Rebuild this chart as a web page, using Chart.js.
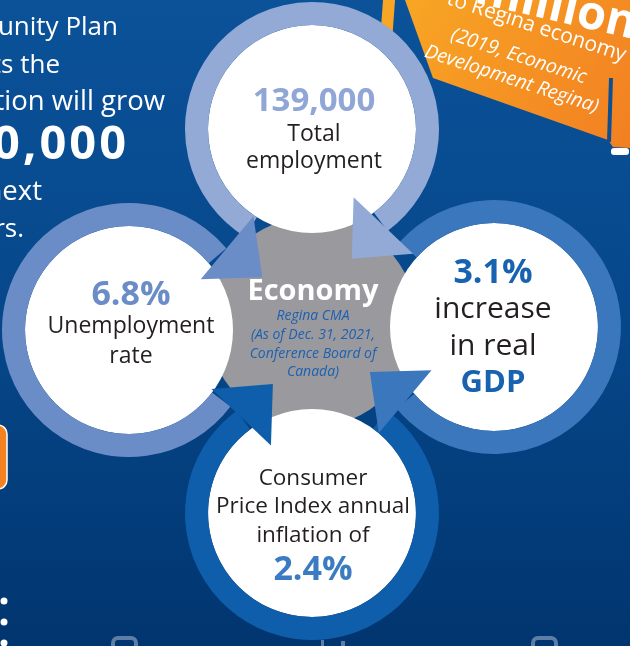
<!DOCTYPE html>
<html>
<head>
<meta charset="utf-8">
<script src="https://cdn.jsdelivr.net/npm/chart.js@4.4.1/dist/chart.umd.min.js"></script>
<style>
  html, body { margin: 0; padding: 0; background: #0a4f94; overflow: hidden; }
  canvas { display: block; }
</style>
</head>
<body>
<canvas id="myChart" width="630" height="646"></canvas>
<script>
// four indicators, clockwise from the top circle
const metrics = ['Total employment', 'Real GDP growth', 'CPI inflation', 'Unemployment rate'];
const figures = ['139,000', '3.1%', '2.4%', '6.8%'];
const captions = [
    ['Total', 'employment'],
    ['increase', 'in real', 'GDP'],
    ['Consumer', 'Price Index annual', 'inflation of'],
    ['Unemployment', 'rate']
];
const figureFirst = [true, true, false, true];
const emphasised = ['GDP'];

const hubTitle = 'Economy';
const hubNotes = ['Regina CMA', '(As of Dec. 31, 2021,', 'Conference Board of', 'Canada)'];

const sideText = ['Community Plan', 'projects the', 'population will grow', '0,000', 'next', 'years.'];
const signText = ['million', 'to Regina economy', '(2019, Economic', 'Development Regina)'];

// layout (pixels on the hidden scales)
const circleX = [312, 494, 312, 129];
const circleY = [129, 327, 513, 330];
const hub = { x: 312, y: 322 };
const innerR = 104;
const ringMid = 115.5;
const ringW = 23;
const tailAngle = [122, 222, 306, 37];
const headAngle = [53.5, 140, 233.5, -40];
const headRadius = [120, 116, 119, 128];
const lineBase = [[-18, 12, 39], [-44, -9, 28, 65], [-28, 0, 29, 67], [-25, 3, 33]];
const textShift = [2, -1, 1, 2];
const captionSize = [23, 30, 22.5, 23];

const ringColors = ['#93a9d6', '#3a77bc', '#0f5eab', '#6b8dc7'];
const figureColors = ['#8fa6d6', '#1862af', '#3b7bc1', '#6b8dc7'];

const FONT = '"Open Sans", "Noto Sans", sans-serif';
const rad = d => d * Math.PI / 180;

const backdrop = {
    id: 'backdrop',
    beforeDraw(chart) {
        const ctx = chart.ctx;
        const W = chart.width, H = chart.height;
        ctx.save();
        const bg = ctx.createLinearGradient(0, 0, 0, H);
        bg.addColorStop(0, '#0b5299');
        bg.addColorStop(0.5, '#06478a');
        bg.addColorStop(1, '#01356f');
        ctx.fillStyle = bg;
        ctx.fillRect(0, 0, W, H);

        // text block on the left, cut by the frame
        ctx.fillStyle = '#ffffff';
        ctx.textAlign = 'right';
        ctx.textBaseline = 'alphabetic';
        const rightEnds = [118, 60, 165, 129, 42, 24];
        const bases = [35, 73, 110, 159, 200, 237];
        const sizes = [26, 26, 27.5, 47, 27.5, 26];
        sideText.forEach((t, i) => {
            ctx.font = (i === 3 ? 'bold ' : '') + sizes[i] + 'px ' + FONT;
            ctx.letterSpacing = i === 3 ? '3px' : '0px';
            ctx.fillText(t, rightEnds[i], bases[i]);
        });
        ctx.letterSpacing = '0px';

        // orange sign top right
        const og = ctx.createLinearGradient(400, 0, 630, 150);
        og.addColorStop(0, '#f8a624');
        og.addColorStop(1, '#f27f22');
        ctx.fillStyle = og;
        ctx.beginPath();
        ctx.moveTo(383, 0); ctx.lineTo(395, 0); ctx.lineTo(392, 42); ctx.lineTo(380, 42);
        ctx.closePath();
        ctx.fill();
        ctx.beginPath();
        ctx.moveTo(405, 0); ctx.lineTo(630, 0); ctx.lineTo(630, 148);
        ctx.lineTo(613, 147); ctx.lineTo(608, 140); ctx.lineTo(433, 78);
        ctx.closePath();
        ctx.fill();
        ctx.strokeStyle = '#0b4f94';
        ctx.lineWidth = 4;
        ctx.beginPath();
        ctx.moveTo(611, 78); ctx.lineTo(609, 142);
        ctx.stroke();
        ctx.fillStyle = '#ffffff';
        ctx.beginPath();
        ctx.roundRect(611, 148, 18, 7, 3);
        ctx.fill();

        ctx.fillStyle = '#ffffff';
        ctx.save();
        ctx.translate(633, 39);
        ctx.rotate(rad(13));
        ctx.textAlign = 'right';
        ctx.font = 'bold 47px ' + FONT;
        ctx.fillText(signText[0], 0, 0);
        ctx.restore();

        ctx.save();
        ctx.translate(515, 40);
        ctx.rotate(rad(18));
        ctx.textAlign = 'left';
        ctx.font = '21px ' + FONT;
        ctx.fillText(signText[1], -77, -13);
        ctx.font = 'italic 19.5px ' + FONT;
        ctx.fillText(signText[2], -62, 20);
        ctx.fillText(signText[3], -82, 44);
        ctx.restore();

        // orange tab on the left edge
        ctx.fillStyle = '#f58220';
        ctx.strokeStyle = '#ffffff';
        ctx.lineWidth = 1.5;
        ctx.beginPath();
        ctx.roundRect(-40, 425, 47, 64, 9);
        ctx.fill();
        ctx.stroke();

        // dots and icons along the bottom
        ctx.fillStyle = '#ffffff';
        [601, 622, 643].forEach(y => {
            ctx.beginPath();
            ctx.arc(4, y, 3.5, 0, Math.PI * 2);
            ctx.fill();
        });
        ctx.strokeStyle = '#5d7fa6';
        ctx.lineWidth = 4;
        [113, 533].forEach(x => {
            ctx.beginPath();
            ctx.roundRect(x, 638, 23, 22, 5);
            ctx.stroke();
        });
        ctx.fillStyle = '#5d7fa6';
        ctx.fillRect(321, 640, 3, 6);
        ctx.fillRect(341, 641, 4, 5);
        ctx.restore();
    },
    beforeDatasetsDraw(chart) {
        // grey hub between the circles
        const ctx = chart.ctx;
        const hx = chart.scales.x.getPixelForValue(hub.x);
        const hy = chart.scales.y.getPixelForValue(hub.y);
        ctx.save();
        ctx.fillStyle = '#9a999e';
        ctx.beginPath();
        ctx.arc(hx, hy, 105, 0, Math.PI * 2);
        ctx.fill();
        ctx.restore();
    }
};

function arrowHead(ctx, cx, cy, i) {
    const a = rad(headAngle[i]);
    const mx = cx + headRadius[i] * Math.cos(a);
    const my = cy + headRadius[i] * Math.sin(a);
    const d = rad(headAngle[i] + 90 - 10);
    const dx = Math.cos(d), dy = Math.sin(d);
    ctx.fillStyle = ringColors[i];
    ctx.beginPath();
    ctx.moveTo(mx - dy * 41, my + dx * 41);
    ctx.lineTo(mx + dx * 46, my + dy * 46);
    ctx.lineTo(mx + dy * 41, my - dx * 41);
    ctx.closePath();
    ctx.fill();
}

const rings = {
    id: 'rings',
    afterDatasetsDraw(chart) {
        const ctx = chart.ctx;
        const pts = chart.getDatasetMeta(0).data;
        ctx.save();
        ctx.lineCap = 'butt';
        ctx.lineWidth = ringW;
        pts.forEach((p, i) => {
            ctx.strokeStyle = ringColors[i];
            ctx.beginPath();
            ctx.arc(p.x, p.y, ringMid, rad(tailAngle[i]), rad(headAngle[i]), false);
            ctx.stroke();
        });
        pts.forEach((p, i) => arrowHead(ctx, p.x, p.y, i));

        // texts inside the circles
        ctx.textAlign = 'center';
        ctx.textBaseline = 'alphabetic';
        pts.forEach((p, i) => {
            const lines = figureFirst[i] ? [figures[i]].concat(captions[i]) : captions[i].concat([figures[i]]);
            lines.forEach((t, k) => {
                const isFig = t === figures[i];
                if (isFig) {
                    ctx.font = 'bold ' + (i === 0 ? 33 : 34) + 'px ' + FONT;
                    ctx.fillStyle = figureColors[i];
                } else if (emphasised.includes(t)) {
                    ctx.font = 'bold 31px ' + FONT;
                    ctx.fillStyle = figureColors[i];
                } else {
                    ctx.font = captionSize[i] + 'px ' + FONT;
                    ctx.fillStyle = '#231f20';
                }
                ctx.fillText(t, p.x + textShift[i], p.y + lineBase[i][k]);
            });
        });

        // hub label
        const hx = chart.scales.x.getPixelForValue(hub.x);
        const hy = chart.scales.y.getPixelForValue(hub.y);
        ctx.fillStyle = '#ffffff';
        ctx.font = 'bold 29px ' + FONT;
        ctx.fillText(hubTitle, hx + 1, hy - 22);
        ctx.fillStyle = '#1d61b0';
        ctx.font = 'italic 14px ' + FONT;
        const noteBase = [-2, 17, 36, 54];
        hubNotes.forEach((t, k) => ctx.fillText(t, hx + 1, hy + noteBase[k]));
        ctx.restore();
    }
};

const ctx = document.getElementById('myChart').getContext('2d');
const myChart = new Chart(ctx, {
    type: 'bubble',
    data: {
        labels: metrics,
        datasets: [{
            label: 'Economy',
            data: circleX.map((x, i) => ({ x: x, y: circleY[i], r: innerR })),
            backgroundColor: '#ffffff',
            borderWidth: 0,
            hoverRadius: 0,
            clip: false
        }]
    },
    options: {
        responsive: false,
        animation: false,
        devicePixelRatio: 1,
        events: [],
        layout: { padding: 0, autoPadding: false },
        scales: {
            x: { type: 'linear', display: false, min: 0, max: 630 },
            y: { type: 'linear', display: false, min: 0, max: 646, reverse: true }
        },
        plugins: {
            legend: { display: false },
            tooltip: { enabled: false }
        }
    },
    plugins: [backdrop, rings]
});
</script>
</body>
</html>
